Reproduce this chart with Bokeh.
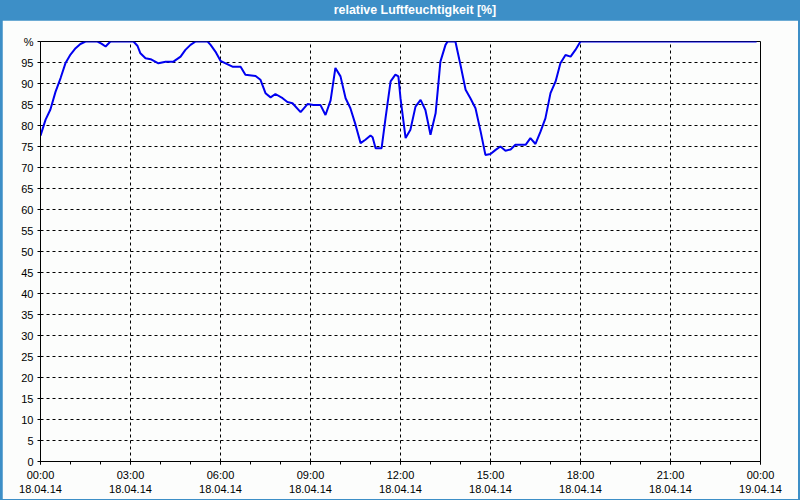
from bokeh.plotting import figure
from bokeh.models import Div, FixedTicker, Range1d, ColumnDataSource
from bokeh.layouts import column
from bokeh.embed import file_html
from bokeh.resources import INLINE

# time in hours since 18.04.14 00:00, relative humidity in %
hours = [0, 0.17, 0.33, 0.5, 0.67, 0.83, 1.0, 1.17, 1.33, 1.5, 1.9, 2.03, 2.17, 2.33,
         3.1, 3.23, 3.33, 3.5, 3.67, 3.93, 4.17, 4.43, 4.67, 4.83, 5.0, 5.17, 5.57,
         5.67, 5.83, 6.0, 6.17, 6.4, 6.67, 6.83, 7.17, 7.33, 7.5, 7.67, 7.83, 8.07,
         8.23, 8.4, 8.67, 8.9, 9.1, 9.33, 9.5, 9.67, 9.83, 10.0, 10.17, 10.33, 10.5,
         10.67, 10.83, 11.0, 11.07, 11.17, 11.37, 11.5, 11.67, 11.83, 11.93, 12.0,
         12.17, 12.33, 12.5, 12.67, 12.83, 13.0, 13.17, 13.27, 13.33, 13.5, 13.57,
         13.83, 14.0, 14.17, 14.33, 14.5, 14.67, 14.83, 15.0, 15.17, 15.33, 15.5,
         15.67, 15.83, 16.17, 16.33, 16.5, 16.67, 16.83, 17.0, 17.17, 17.33, 17.5,
         17.67, 17.83, 18.0, 23.87]
humidity = [77.6, 81.4, 83.8, 88, 91.3, 94.8, 96.9, 98.4, 99.4, 100, 100, 99.5, 98.8, 100,
            100, 99, 97.2, 96, 95.8, 94.8, 95.2, 95.2, 96.4, 98, 99.2, 100, 100,
            99.2, 97.6, 95.4, 94.8, 94, 94, 92.1, 91.8, 90.9, 87.7, 86.7, 87.5, 86.5,
            85.6, 85.3, 83.2, 85.1, 84.9, 84.9, 82.5, 86, 93.7, 91.7, 86.5, 84.1, 80.2,
            75.8, 76.6, 77.6, 77.2, 74.6, 74.6, 81.7, 90.5, 92.1, 91.7, 86.5,
            77, 79, 84.5, 86.1, 83.7, 77.8, 82.9, 90.5, 95.2, 99.2, 100,
            100, 94.4, 88.5, 86.5, 84.1, 78.6, 73, 73.2, 74.2, 75, 74,
            74.3, 75.4, 75.4, 77, 75.6, 78.6, 81.7, 87.7, 90.5, 94.8, 96.8,
            96.4, 98, 100, 100]

x_ticks = [0, 3, 6, 9, 12, 15, 18, 21, 24]
x_tick_labels = ["00:00\n18.04.14", "03:00\n18.04.14", "06:00\n18.04.14",
                 "09:00\n18.04.14", "12:00\n18.04.14", "15:00\n18.04.14",
                 "18:00\n18.04.14", "21:00\n18.04.14", "00:00\n19.04.14"]
y_ticks = list(range(0, 101, 5))
y_tick_labels = [str(v) for v in y_ticks[:-1]] + ["%"]
title_text = "relative Luftfeuchtigkeit [%]"

BLUE_BAR = "#3d8fc7"
BG = "#fcfdfc"
FONT = "Liberation Sans"

p = figure(width=796, height=479, output_backend="svg", toolbar_location=None,
           x_range=Range1d(0, 24), y_range=Range1d(0, 100),
           min_border_left=38, min_border_right=38, min_border_top=21,
           min_border_bottom=38, margin=(0, 2, 1, 2))
p.background_fill_color = BG
p.border_fill_color = BG
p.outline_line_color = "black"
p.outline_line_width = 1

src = ColumnDataSource(dict(t=hours, rh=humidity))
p.line("t", "rh", source=src, line_color="#0000f0", line_width=2)

p.xaxis.ticker = FixedTicker(ticks=x_ticks, minor_ticks=list(range(0, 25)))
p.xaxis.major_label_overrides = {t: l for t, l in zip(x_ticks, x_tick_labels)}
p.yaxis.ticker = FixedTicker(ticks=y_ticks)
p.yaxis.major_label_overrides = {t: l for t, l in zip(y_ticks, y_tick_labels)}

for ax in (p.xaxis[0], p.yaxis[0]):
    ax.axis_line_color = "black"
    ax.major_tick_line_color = "black"
    ax.minor_tick_line_color = "black"
    ax.major_tick_in = 0
    ax.major_tick_out = 3
    ax.minor_tick_in = 0
    ax.minor_tick_out = 3
    ax.major_label_text_font = FONT
    ax.major_label_text_font_size = "11px"
    ax.major_label_text_color = "black"
    ax.major_label_standoff = 4
p.yaxis.minor_tick_line_color = None

for g in (p.xgrid[0], p.ygrid[0]):
    g.grid_line_color = "black"
    g.grid_line_dash = "3 3"
    g.grid_line_width = 1
    g.grid_line_alpha = 1

title = Div(text='<span style="position:relative;left:15px">' + title_text + '</span>',
            width=800, height=20, margin=0,
            styles={"background-color": BLUE_BAR, "color": "white",
                    "font-family": FONT, "font-weight": "bold",
                    "font-size": "12.4px", "text-align": "center",
                    "line-height": "20px"})

layout = column(title, p, margin=0, spacing=0,
                styles={"background-color": BLUE_BAR})

open("out.html", "w").write(file_html(layout, INLINE))
